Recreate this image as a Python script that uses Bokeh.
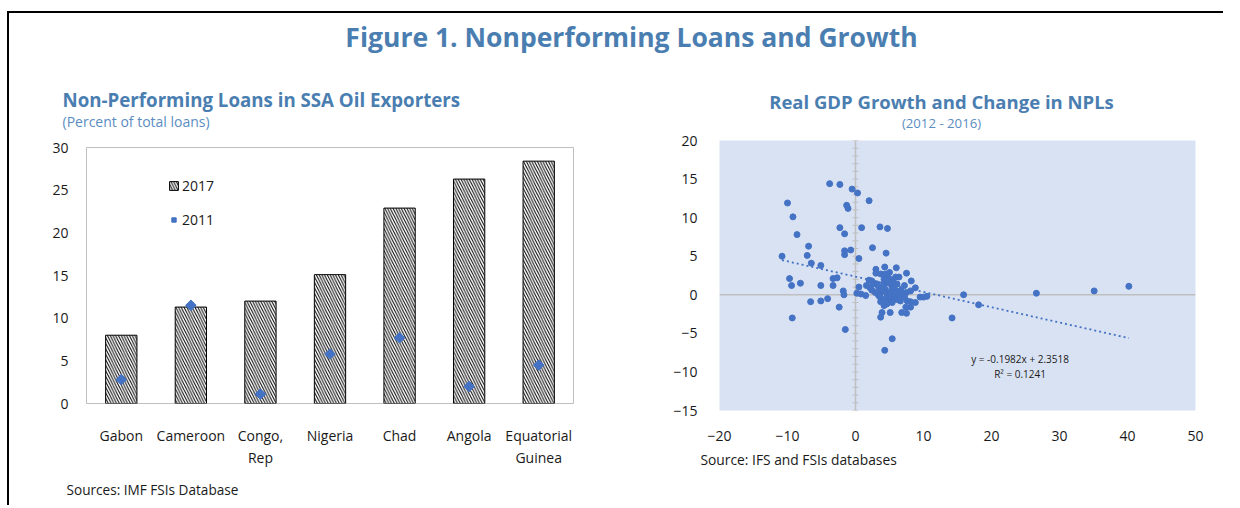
from bokeh.plotting import figure
from bokeh.models import (FactorRange, Range1d, Label, Legend, LegendItem, Span,
                          ColumnDataSource, FixedTicker)
from bokeh.layouts import column, row
from bokeh.embed import file_html
from bokeh.resources import INLINE

# ---------------- data ----------------
countries = ["Gabon", "Cameroon", "Congo,\nRep", "Nigeria", "Chad", "Angola", "Equatorial\nGuinea"]
npl_2017 = [8.0, 11.3, 12.0, 15.1, 22.9, 26.3, 28.4]
npl_2011 = [2.8, 11.5, 1.1, 5.8, 7.7, 2.0, 4.5]
left_yticks = [0, 5, 10, 15, 20, 25, 30]

gdp_growth = [
    -10.8, -10.0, -9.2, -8.6, -6.9, -7.1, -6.5, -5.1, -9.7, -9.4, -8.1, -9.3, -6.6, -5.1,
    -4.1, -5.1, -3.3, -3.3, -2.7, -3.8, -2.3, -0.5, 0.3, 2.0, -1.3, -1.1, -2.3, -1.6,
    0.9, 3.6, 4.7, -1.6, -1.6, -0.7, 0.5, 2.5, 4.5, -1.8, -1.7, -2.4, -1.5, 0.2,
    0.8, 1.5, 0.5, 4.3, 5.4, 14.2, 15.9, 18.1, 26.6, 35.1, 40.2,
    3.0, 4.3, 6.0, 7.5, 3.0, 3.7, 4.7, 5.1, 5.9, 6.4, 8.2, 2.0, 2.4, 3.2,
    4.2, 4.9, 5.6, 1.6, 2.1, 3.4, 4.4, 5.4, 6.1, 7.2, 2.9, 3.7, 4.6, 5.1,
    5.9, 6.4, 6.9, 7.5, 8.1, 8.8, 9.5, 10.0, 10.5, 3.7, 4.4, 5.1, 6.1, 6.6,
    7.6, 8.1, 8.8, 4.2, 3.9, 3.7, 5.1, 6.8, 7.5, 8.1, 7.4,
    2.7, 3.9, 3.4, 5.6, 4.9, 4.2, 2.4, 5.9, 6.7, 7.2, 5.4, 4.6, 4.4, 5.0, 3.7,
]
npl_change = [
    5.0, 11.9, 10.1, 7.8, 6.3, 5.1, 4.1, 3.8, 2.1, 1.2, 1.5, -3.0, -0.9, -0.8,
    -0.5, 1.2, 1.2, 2.1, 2.2, 14.4, 14.3, 13.7, 13.2, 12.2, 11.6, 11.2, 8.7, 7.9,
    8.7, 8.8, 8.6, 5.7, 5.2, 5.8, 4.7, 6.1, 5.4, 0.5, 0.0, -1.6, -4.5, 0.2,
    0.1, -0.1, 1.0, -7.2, -5.7, -3.0, 0.0, -1.3, 0.2, 0.5, 1.1,
    3.3, 3.6, 3.5, 2.8, 2.8, 2.7, 2.3, 2.0, 2.3, 2.3, 1.8, 1.9, 1.8, 1.4,
    1.4, 1.5, 1.6, 1.2, 0.95, 1.0, 0.7, 0.95, 1.4, 1.2, 0.3, 0.3, 0.1, 0.3,
    0.0, 0.1, -0.1, 0.3, 0.5, 0.9, -0.3, -0.3, -0.2, -0.4, -0.6, -0.8, -0.6, -0.8,
    -0.8, -0.9, -1.0, -1.4, -2.3, -2.9, -2.3, -2.3, -2.4, -1.6, -1.6,
    1.4, 0.6, -0.1, -0.3, -0.3, 2.0, 0.6, 0.6, 0.6, -0.3, -1.0, -1.2, 2.7, 2.9, -0.9,
]
trend_slope = -0.1982
trend_intercept = 2.3518
trend_r2 = 0.1241
right_xticks = [-20, -10, 0, 10, 20, 30, 40, 50]
right_yticks = [-15, -10, -5, 0, 5, 10, 15, 20]
right_minor_y = list(range(-15, 21))

# ---------------- style ----------------
FONT = "Open Sans"
TITLE_C = "#4A7EB1"
SUB_C = "#5B8DC2"
BLUE = "#4472C4"
TXT = "#1A1A1A"


def text_fig(w, h, items):
    """Blank svg figure whose data coords are pixels (y measured from top)."""
    f = figure(width=w, height=h, x_range=Range1d(0, w), y_range=Range1d(h, 0),
               output_backend="svg", toolbar_location=None, title=None, min_border=0,
               x_axis_location=None, y_axis_location=None, frame_align=False)
    f.outline_line_color = None
    f.grid.visible = False
    for (x, y, txt, kw) in items:
        f.add_layout(Label(x=x, y=y, text=txt, text_baseline="middle", text_font=FONT, **kw))
    return f


# ---------------- heading ----------------
head = text_fig(1214, 62, [
    (622, 23, "Figure 1. Nonperforming Loans and Growth",
     dict(text_align="center", text_font_style="bold", text_font_size="26.5px", text_color=TITLE_C)),
])

# ---------------- left chart ----------------
ltitle = text_fig(610, 57, [
    (53, 24, "Non-Performing Loans in SSA Oil Exporters",
     dict(text_font_style="bold", text_font_size="18.7px", text_color=TITLE_C)),
    (53, 46, "(Percent of total loans)", dict(text_font_size="14px", text_color=SUB_C)),
])

src_l = ColumnDataSource(dict(country=countries, npl_2017=npl_2017, npl_2011=npl_2011))
left = figure(x_range=FactorRange(*countries), y_range=Range1d(0, 30), width=610, height=338,
              min_border_left=77, min_border_right=46, min_border_top=15, min_border_bottom=58,
              output_backend="svg", toolbar_location=None, title=None, frame_align=False)
bars = left.vbar(x="country", top="npl_2017", width=0.45, source=src_l, fill_color="white",
                 line_color="black", line_width=1, hatch_pattern="\\", hatch_color="black",
                 hatch_scale=5.5, hatch_weight=1)
dia = left.scatter(x="country", y="npl_2011", source=src_l, marker="square", angle=0.785398,
                   size=7.5, fill_color=BLUE, line_color=BLUE)
left.grid.visible = False
left.outline_line_color = "#BFBFBF"
left.yaxis.ticker = FixedTicker(ticks=left_yticks)
for ax in (left.xaxis[0], left.yaxis[0]):
    ax.axis_line_color = None
    ax.major_tick_line_color = None
    ax.minor_tick_line_color = None
    ax.major_label_text_font = FONT
    ax.major_label_text_font_size = "14px"
    ax.major_label_text_color = TXT
left.yaxis.major_label_standoff = 12
left.xaxis.major_label_standoff = 16

legend = Legend(items=[LegendItem(label="2017", renderers=[bars]),
                       LegendItem(label="2011", renderers=[dia])],
                location=(82, 174), orientation="vertical", padding=0, margin=0,
                spacing=14, glyph_width=11, glyph_height=11, label_height=20,
                label_standoff=3, border_line_color=None, background_fill_alpha=0,
                label_text_font=FONT, label_text_font_size="14px", label_text_color=TXT)
left.add_layout(legend)

lfoot = text_fig(610, 35, [
    (57, 19, "Sources: IMF FSIs Database", dict(text_font_size="13.6px", text_color=TXT)),
])

# ---------------- right chart ----------------
rtitle = text_fig(604, 57, [
    (322, 26, "Real GDP Growth and Change in NPLs",
     dict(text_align="center", text_font_style="bold", text_font_size="18.5px", text_color=TITLE_C)),
    (322, 47.5, "(2012 - 2016)", dict(text_align="center", text_font_size="13.2px", text_color=SUB_C)),
])

src_r = ColumnDataSource(dict(x=gdp_growth, y=npl_change))
right = figure(x_range=Range1d(-20, 50), y_range=Range1d(-15, 20), width=604, height=313,
               min_border_left=100, min_border_right=28, min_border_top=8, min_border_bottom=35,
               output_backend="svg", toolbar_location=None, title=None, frame_align=False)
right.background_fill_color = "#D9E2F3"
right.outline_line_color = None
right.grid.visible = False
right.add_layout(Span(location=0, dimension="width", line_color="#BFBFBF", line_width=1.5,
                      level="underlay"))
right.add_layout(Span(location=0, dimension="height", line_color="#BFBFBF", line_width=1.5,
                      level="underlay"))
right.segment(x0=-0.45, x1=0.45, y0=right_minor_y, y1=right_minor_y, line_color="#BFBFBF",
              line_width=1, level="underlay")
right.scatter(x="x", y="y", source=src_r, size=6, fill_color=BLUE, line_color=BLUE)
tx = [min(gdp_growth), max(gdp_growth)]
ty = [trend_slope * v + trend_intercept for v in tx]
right.line(tx, ty, line_color=BLUE, line_width=1.8, line_dash="2 3")
right.xaxis.ticker = FixedTicker(ticks=right_xticks)
right.yaxis.ticker = FixedTicker(ticks=right_yticks)
for ax in (right.xaxis[0], right.yaxis[0]):
    ax.axis_line_color = None
    ax.major_tick_line_color = None
    ax.minor_tick_line_color = None
    ax.major_label_text_font = FONT
    ax.major_label_text_font_size = "14px"
    ax.major_label_text_color = TXT
right.yaxis.major_label_standoff = 16
right.xaxis.major_label_standoff = 14

right.add_layout(Label(x=24.2, y=-8.3,
                       text=f"y = {trend_slope}x + {trend_intercept}",
                       text_align="center", text_baseline="middle", text_font=FONT,
                       text_font_size="10px", text_color=TXT))
right.add_layout(Label(x=24.2, y=-10.3, text=f"R\u00b2 = {trend_r2}",
                       text_align="center", text_baseline="middle", text_font=FONT,
                       text_font_size="10px", text_color=TXT))

rfoot = text_fig(604, 30, [
    (81, 14, "Source: IFS and FSIs databases", dict(text_font_size="13.8px", text_color=TXT)),
])

layout = column(head, row(column(ltitle, left, lfoot), column(rtitle, right, rfoot)),
                styles={"border-top": "2px solid black", "border-left": "2px solid black",
                        "margin-top": "11px", "margin-left": "7px"})

open("out.html", "w").write(file_html(layout, INLINE))
